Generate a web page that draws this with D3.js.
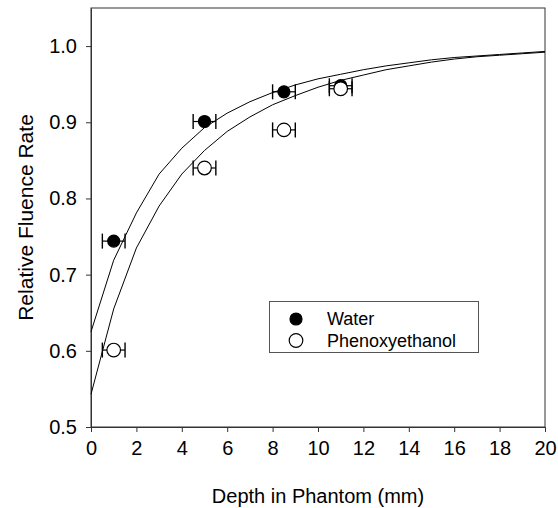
<!DOCTYPE html>
<html>
<head>
<meta charset="utf-8">
<script src="https://cdn.jsdelivr.net/npm/d3@7"></script>
<style>
  body { margin: 0; background: #fff; }
  svg text { font-family: "Liberation Sans", Arial, sans-serif; fill: #000; }
</style>
</head>
<body>
<svg id="chart" width="558" height="508"></svg>
<script>
// ── Data ─────────────────────────────────────────────────────────────────────
const seriesNames = ['Water', 'Phenoxyethanol'];

// measured points (depth mm, relative fluence rate), x error ±0.5 mm
const waterDepth   = [1, 5, 8.5, 11];
const waterValue   = [0.744, 0.901, 0.940, 0.948];
const phenoxDepth  = [1, 5, 8.5, 11];
const phenoxValue  = [0.601, 0.840, 0.890, 0.944];
const depthError   = [0.5, 0.5, 0.5, 0.5];

// fitted curves at 1 mm steps
const curveDepth   = [0, 1, 2, 3, 4, 5, 6, 7, 8, 9, 10, 11, 12, 13, 14, 15, 16, 17, 18, 19, 20];
const waterFit     = [0.625, 0.719, 0.781, 0.832, 0.866, 0.893, 0.912, 0.927, 0.939, 0.949, 0.957,
                      0.963, 0.969, 0.974, 0.978, 0.982, 0.985, 0.987, 0.989, 0.991, 0.993];
const phenoxFit    = [0.543, 0.655, 0.735, 0.790, 0.832, 0.863, 0.888, 0.907, 0.923, 0.935, 0.946,
                      0.955, 0.962, 0.969, 0.974, 0.979, 0.983, 0.986, 0.988, 0.990, 0.992];

const xTicks = [0, 2, 4, 6, 8, 10, 12, 14, 16, 18, 20];
const yTicks = [0.5, 0.6, 0.7, 0.8, 0.9, 1.0];

// ── Layout ───────────────────────────────────────────────────────────────────
const M = { left: 91, top: 8, right: 545, bottom: 427 };
const svg = d3.select('#chart');

const x = d3.scaleLinear().domain([0, 20]).range([M.left, M.right]);
const y = d3.scaleLinear().domain([0.5, 1.05]).range([M.bottom, M.top]);

// ── Frame + axes ─────────────────────────────────────────────────────────────
svg.append('rect')
  .attr('x', M.left).attr('y', M.top)
  .attr('width', M.right - M.left).attr('height', M.bottom - M.top)
  .attr('fill', 'none').attr('stroke', '#333').attr('stroke-width', 1);

const xAxis = svg.append('g')
  .attr('transform', `translate(0,${M.bottom})`)
  .call(d3.axisBottom(x).tickValues(xTicks).tickFormat(d3.format('d'))
    .tickSize(5).tickPadding(9).tickSizeOuter(0));
const yAxis = svg.append('g')
  .attr('transform', `translate(${M.left},0)`)
  .call(d3.axisLeft(y).tickValues(yTicks).tickFormat(d3.format('.1f'))
    .tickSize(5).tickPadding(9).tickSizeOuter(0));

[xAxis, yAxis].forEach(g => {
  g.select('.domain').attr('stroke', '#333');
  g.selectAll('.tick line').attr('stroke', '#333');
  g.selectAll('.tick text').attr('font-size', 20)
    .attr('font-family', '"Liberation Sans", Arial, sans-serif').attr('fill', '#000');
});

svg.append('text')
  .attr('x', (M.left + M.right) / 2).attr('y', 503)
  .attr('text-anchor', 'middle').attr('font-size', 20)
  .text('Depth in Phantom (mm)');
svg.append('text')
  .attr('transform', `translate(33,${(M.top + M.bottom) / 2}) rotate(-90)`)
  .attr('text-anchor', 'middle').attr('font-size', 21)
  .text('Relative Fluence Rate');

// ── Fitted curves ────────────────────────────────────────────────────────────
const line = d3.line().x(d => x(d[0])).y(d => y(d[1]));
[waterFit, phenoxFit].forEach(fit => {
  svg.append('path')
    .datum(curveDepth.map((d, i) => [d, fit[i]]))
    .attr('d', line)
    .attr('fill', 'none').attr('stroke', '#000').attr('stroke-width', 1);
});

// ── Points with horizontal error bars ────────────────────────────────────────
const CAP = 7.5;
function drawSeries(depths, values, filled) {
  const pts = depths.map((d, i) => ({ d, v: values[i], e: depthError[i] }));
  const g = svg.append('g');
  pts.forEach(p => {
    const cy = y(p.v);
    g.append('line').attr('x1', x(p.d - p.e)).attr('x2', x(p.d + p.e))
      .attr('y1', cy).attr('y2', cy).attr('stroke', '#000').attr('stroke-width', 1.2);
    [p.d - p.e, p.d + p.e].forEach(xe => {
      g.append('line').attr('x1', x(xe)).attr('x2', x(xe))
        .attr('y1', cy - CAP).attr('y2', cy + CAP)
        .attr('stroke', '#000').attr('stroke-width', 1.4);
    });
  });
  g.selectAll('circle').data(pts).join('circle')
    .attr('cx', p => x(p.d)).attr('cy', p => y(p.v))
    .attr('r', filled ? 6 : 6.8)
    .attr('fill', filled ? '#000' : '#fff')
    .attr('stroke', '#000').attr('stroke-width', 1.2);
}
drawSeries(waterDepth, waterValue, true);
drawSeries(phenoxDepth, phenoxValue, false);

// ── Legend ───────────────────────────────────────────────────────────────────
const legend = svg.append('g');
legend.append('rect')
  .attr('x', 269.5).attr('y', 301.5).attr('width', 209).attr('height', 51)
  .attr('fill', '#fff').attr('stroke', '#555').attr('stroke-width', 1);
seriesNames.forEach((name, i) => {
  const cy = 319 + i * 21.5;
  legend.append('circle').attr('cx', 296).attr('cy', cy).attr('r', i === 0 ? 6 : 6.8)
    .attr('fill', i === 0 ? '#000' : '#fff').attr('stroke', '#000').attr('stroke-width', 1.2);
  legend.append('text').attr('x', 327).attr('y', cy).attr('dy', '0.36em')
    .attr('font-size', 18).text(name);
});
</script>
</body>
</html>
